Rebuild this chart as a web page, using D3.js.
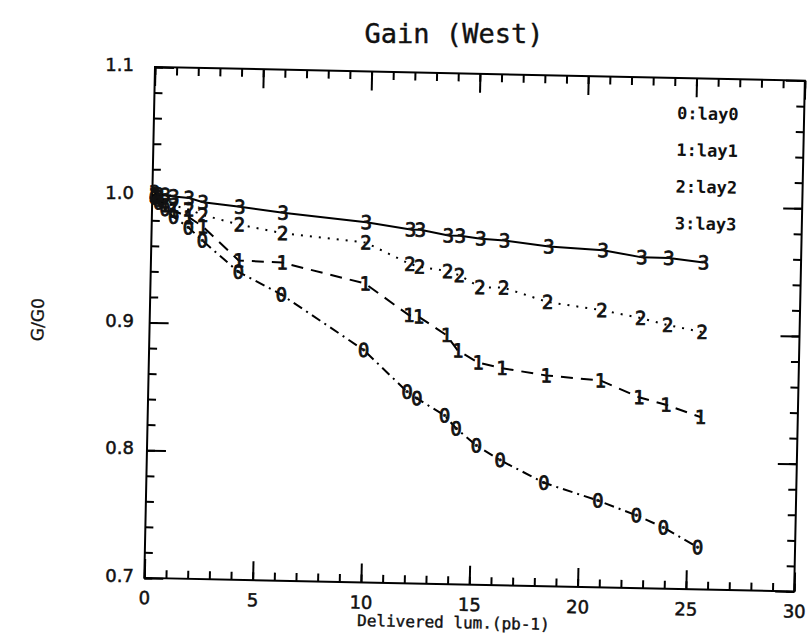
<!DOCTYPE html>
<html><head><meta charset="utf-8">
<script src="https://cdn.jsdelivr.net/npm/d3@7"></script>
<style>body{margin:0;background:#fff}</style>
</head><body><svg id="c" width="811" height="637"></svg>
<script>
// Delivered luminosity (pb-1) for each measurement
const lum  = [0.1, 0.3, 0.6, 1.0, 1.7, 2.35, 4.05, 6.05, 9.9, 11.95, 12.4, 13.7, 14.25, 15.2, 16.3, 18.35, 20.85, 22.65, 23.9, 25.5];
// G/G0 per layer
const lay0 = [0.998, 0.994, 0.989, 0.983, 0.975, 0.965, 0.941, 0.924, 0.882, 0.850, 0.845, 0.832, 0.822, 0.809, 0.798, 0.781, 0.768, 0.757, 0.748, 0.733];
const lay1 = [0.999, 0.996, 0.992, 0.988, 0.983, 0.976, 0.950, 0.949, 0.934, 0.910, 0.909, 0.895, 0.883, 0.874, 0.870, 0.865, 0.862, 0.8495, 0.844, 0.835];
const lay2 = [1.000, 0.998, 0.995, 0.992, 0.989, 0.985, 0.978, 0.972, 0.966, 0.950, 0.948, 0.945, 0.942, 0.933, 0.933, 0.9225, 0.917, 0.9115, 0.9065, 0.9015];
const lay3 = [1.002, 1.000, 1.000, 0.999, 0.998, 0.995, 0.992, 0.988, 0.982, 0.977, 0.977, 0.973, 0.973, 0.971, 0.970, 0.966, 0.964, 0.959, 0.959, 0.956];
const seriesNames = ["lay0", "lay1", "lay2", "lay3"];
const xTickValues = [0, 5, 10, 15, 20, 25, 30];
const yTickValues = [0.7, 0.8, 0.9, 1.0, 1.1];
const titleText = "Gain (West)";
const xTitle = "Delivered lum.(pb-1)";
const yTitle = "G/G0";

const W = 650, H = 511, X0 = 155, Y0 = 67, ANG = 1.2;
const rad = ANG * Math.PI / 180;
const svg = d3.select("#c");
svg.append("rect").attr("width", 811).attr("height", 637).attr("fill", "#fff");
svg.append("text").attr("x", 454).attr("y", 43).attr("text-anchor", "middle")
  .attr("font-family", "DejaVu Sans Mono").attr("font-size", 27).attr("fill", "#111")
  .attr("stroke", "#111").attr("stroke-width", 0.4).text(titleText);

const g = svg.append("g").attr("transform", `translate(${X0},${Y0}) rotate(${ANG})`);
const x = d3.scaleLinear().domain([0, 30]).range([0, W]);
const y = d3.scaleLinear().domain([0.7, 1.1]).range([H, 0]);

const minorX = d3.range(0, 31, 1);
const minorY = d3.range(0, 21).map(i => +(0.7 + i * 0.02).toFixed(2));
function styleAxis(sel) {
  sel.select(".domain").remove();
  sel.selectAll("line").attr("stroke", "#000").attr("stroke-width", 2);
  sel.selectAll("text").attr("font-family", "DejaVu Sans").attr("font-size", 18).attr("fill", "#111")
    .attr("stroke", "#111").attr("stroke-width", 0.5);
}
// minor ticks
g.append("g").attr("transform", `translate(0,${H})`).call(d3.axisBottom(x).tickValues(minorX).tickSize(-8).tickFormat("")).call(styleAxis);
g.append("g").call(d3.axisTop(x).tickValues(minorX).tickSize(-8).tickFormat("")).call(styleAxis);
g.append("g").call(d3.axisLeft(y).tickValues(minorY).tickSize(-8).tickFormat("")).call(styleAxis);
g.append("g").attr("transform", `translate(${W},0)`).call(d3.axisRight(y).tickValues(minorY).tickSize(-8).tickFormat("")).call(styleAxis);
// major ticks
const bx = g.append("g").attr("transform", `translate(0,${H})`)
  .call(d3.axisBottom(x).tickValues(xTickValues).tickSize(-19).tickFormat(d3.format("d"))).call(styleAxis);
bx.selectAll("text").attr("y", 20).attr("dy", "0.35em");
g.append("g").call(d3.axisTop(x).tickValues(xTickValues).tickSize(-19).tickFormat("")).call(styleAxis);
g.append("g").call(d3.axisLeft(y).tickValues(yTickValues).tickSize(-19).tickFormat("")).call(styleAxis);
g.append("g").attr("transform", `translate(${W},0)`).call(d3.axisRight(y).tickValues(yTickValues).tickSize(-19).tickFormat("")).call(styleAxis);

// y tick labels (upright, at the height of their ticks)
svg.append("g").selectAll("text").data(yTickValues).join("text")
  .attr("x", 134).attr("y", d => Y0 + y(d) * Math.cos(rad) - 2).attr("dy", "0.35em")
  .attr("text-anchor", "end").attr("font-family", "DejaVu Sans").attr("font-size", 18)
  .attr("fill", "#111").attr("stroke", "#111").attr("stroke-width", 0.5)
  .text(d3.format(".1f"));

g.append("rect").attr("width", W).attr("height", H).attr("fill", "none").attr("stroke", "#000").attr("stroke-width", 2);

// axis titles
g.append("text").attr("x", 310).attr("y", 549).attr("text-anchor", "middle").attr("dy", "0.35em")
  .attr("font-family", "DejaVu Sans Mono").attr("font-size", 16).attr("fill", "#111")
  .attr("stroke", "#111").attr("stroke-width", 0.4).text(xTitle);
g.append("text").attr("transform", "translate(-112,255) rotate(-90)").attr("text-anchor", "middle").attr("dy", "0.35em")
  .attr("font-family", "DejaVu Sans").attr("font-size", 17).attr("fill", "#111")
  .attr("stroke", "#111").attr("stroke-width", 0.3).text(yTitle);

// series
const allSeries = [lay0, lay1, lay2, lay3];
const dashes = ["10,5,2,5", "12,8", "2,7", null];
const line = d3.line().x(d => x(d[0])).y(d => y(d[1]));
allSeries.forEach((vals, i) => {
  const pts = d3.zip(lum, vals);
  const p = g.append("path").datum(pts).attr("d", line).attr("fill", "none")
    .attr("stroke", "#000").attr("stroke-width", 2);
  if (dashes[i]) p.attr("stroke-dasharray", dashes[i]);
  g.append("g").selectAll("text").data(pts).join("text")
    .attr("x", d => x(d[0])).attr("y", d => y(d[1])).attr("dy", "0.36em")
    .attr("text-anchor", "middle").attr("font-family", "DejaVu Sans Mono").attr("font-size", 19)
    .attr("fill", "#111").attr("stroke", "#111").attr("stroke-width", 0.8).text(String(i));
});

// legend
g.append("g").selectAll("text").data(seriesNames).join("text")
  .attr("x", 523).attr("y", (d, i) => 35 + i * 36.7).attr("dy", "0.36em")
  .attr("font-family", "DejaVu Sans Mono").attr("font-weight", "bold").attr("font-size", 17)
  .attr("fill", "#111").text((d, i) => i + ":" + d);
</script></body></html>
